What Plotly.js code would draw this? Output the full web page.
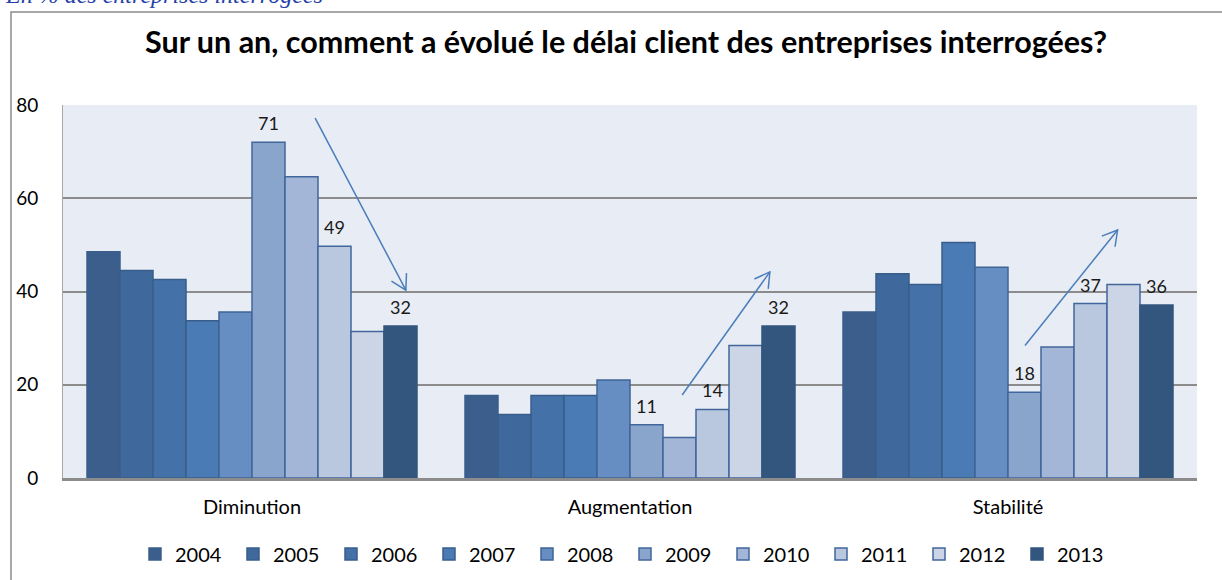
<!DOCTYPE html>
<html>
<head>
<meta charset="utf-8">
<script src="https://cdn.plot.ly/plotly-3.0.1.min.js"></script>
<style>html,body{margin:0;padding:0;background:#fff;}#chart{width:1222px;height:580px;}</style>
</head>
<body>
<div id="chart"></div>
<script>
// ---- data ----
var categories = ['Diminution', 'Augmentation', 'Stabilité'];
var years = ['2004','2005','2006','2007','2008','2009','2010','2011','2012','2013'];
var v2004 = [48.5, 17.7, 35.6];
var v2005 = [44.5, 13.6, 43.8];
var v2006 = [42.6, 17.7, 41.5];
var v2007 = [33.7, 17.7, 50.5];
var v2008 = [35.6, 21.0, 45.2];
var v2009 = [72.0, 11.4, 18.4];
var v2010 = [64.6, 8.7, 28.1];
var v2011 = [49.7, 14.7, 37.4];
var v2012 = [31.4, 28.4, 41.5];
var v2013 = [32.6, 32.6, 37.1];
var labels2009 = ['71', '11', '18'];
var labels2011 = ['49', '14', '37'];
var labels2013 = ['32', '32', '36'];
var yTicks = [0, 20, 40, 60, 80];

// ---- styles ----
var series = [v2004, v2005, v2006, v2007, v2008, v2009, v2010, v2011, v2012, v2013];
var fills = ['#3b5e8c','#3f699c','#4471a8','#4a7bb5','#668ec3','#8aa5cc','#a3b6d7','#bac8df','#cbd5e6','#33567e'];
var lines = ['#3b5e8c','#385d8a','#385d8a','#385d8a','#3f6496','#41669c','#41669c','#41669c','#41669c','#33567e'];
var FONT = 'Lato, "Open Sans", sans-serif';
var bargap = 0.127;

var traces = series.map(function (vals, k) {
  return {
    type: 'bar', name: years[k], x: categories, y: vals,
    marker: { color: fills[k], line: { color: lines[k], width: 1.5 } },
    hoverinfo: 'x+y+name'
  };
});

// geometry used for decorations
var L = 63, R = 25, T = 105, B = 102;
var W = 1222 - L - R, H = 580 - T - B;
var pxPerX = W / 3, pxPerY = H / 80;
var barW = (1 - bargap) / years.length;

var annotations = [];
function addLabels(arr, k) {
  arr.forEach(function (txt, i) {
    annotations.push({
      xref: 'x', yref: 'y', x: i + (k - (years.length - 1) / 2) * barW, y: series[k][i],
      text: txt, showarrow: false, yanchor: 'middle', yshift: 19,
      font: { family: FONT, size: 18, color: '#1a1a1a' }
    });
  });
}
addLabels(labels2009, 5);
addLabels(labels2011, 7);
addLabels(labels2013, 9);

annotations.push({
  xref: 'paper', yref: 'paper', x: (3 - L) / W, y: (H + T - 10) / H, xanchor: 'left', yanchor: 'bottom',
  text: '<i>En % des entreprises interrogées</i>', showarrow: false,
  font: { family: '"Liberation Serif", serif', size: 24, color: '#2440a8' }
});

// arrows: [x0, y0, x1, y1] in data units
var arrows = [[0.167, 77.2, 0.407, 40.3], [1.138, 17.8, 1.370, 44.2], [2.045, 28.4, 2.290, 53.2]];
var arrowColor = '#4a7ebb';
var shapes = [];
arrows.forEach(function (a) {
  shapes.push({ type: 'line', xref: 'x', yref: 'y', x0: a[0], y0: a[1], x1: a[2], y1: a[3],
    line: { color: arrowColor, width: 1.5 } });
  var dx = (a[2] - a[0]) * pxPerX, dy = -(a[3] - a[1]) * pxPerY;
  var len = Math.sqrt(dx * dx + dy * dy);
  var bx = -dx / len, by = -dy / len;
  var pts = [30, -30].map(function (deg) {
    var r = deg * Math.PI / 180;
    var ux = bx * Math.cos(r) - by * Math.sin(r);
    var uy = bx * Math.sin(r) + by * Math.cos(r);
    return [a[2] + ux * 17 / pxPerX, a[3] - uy * 17 / pxPerY];
  });
  shapes.push({ type: 'path', xref: 'x', yref: 'y',
    path: 'M' + pts[0][0] + ',' + pts[0][1] + ' L' + a[2] + ',' + a[3] + ' L' + pts[1][0] + ',' + pts[1][1],
    line: { color: arrowColor, width: 1.5 } });
});
// outer frame
shapes.push({ type: 'rect', xref: 'paper', yref: 'paper', x0: (11 - L) / W, x1: (1240 - L) / W,
  y0: -(600 - T - H) / H, y1: (H + T - 12) / H, line: { color: '#8c8c8c', width: 1.5 }, layer: 'below' });

var layout = {
  width: 1222, height: 580,
  margin: { l: L, r: R, t: T, b: B, pad: 0, autoexpand: false },
  paper_bgcolor: '#ffffff', plot_bgcolor: '#e8ecf4',
  barmode: 'group', bargap: bargap, bargroupgap: 0,
  title: {
    text: '<b>Sur un an, comment a évolué le délai client des entreprises interrogées?</b>',
    x: 626 / 1222, xref: 'container', xanchor: 'center',
    y: 1 - 42 / 580, yref: 'container', yanchor: 'middle',
    font: { family: FONT, size: 30.5, color: '#000000' }
  },
  xaxis: {
    type: 'category', range: [-0.5, 2.5], showgrid: false, ticks: '',
    showline: true, linecolor: '#8c8c8c', linewidth: 2.5,
    tickfont: { family: FONT, size: 20, color: '#000000' }, ticklabelstandoff: 9
  },
  yaxis: {
    range: [0, 80], tickvals: yTicks, ticktext: yTicks.map(String), ticks: '',
    showgrid: true, gridcolor: '#8c8c8c', gridwidth: 1.5, zeroline: false,
    showline: true, linecolor: '#a6a6a6', linewidth: 1,
    tickfont: { family: FONT, size: 19, color: '#000000' }, ticklabelstandoff: 20
  },
  legend: {
    orientation: 'h', x: (135 - L) / W, xanchor: 'left', y: -(554 - T - H) / H, yanchor: 'middle',
    entrywidth: 53, entrywidthmode: 'pixels', itemwidth: 30, traceorder: 'normal',
    font: { family: FONT, size: 20, color: '#000000' }, bgcolor: 'rgba(0,0,0,0)'
  },
  showlegend: true,
  annotations: annotations,
  shapes: shapes
};

Plotly.newPlot('chart', traces, layout, { displayModeBar: false, responsive: false });
</script>
</body>
</html>
